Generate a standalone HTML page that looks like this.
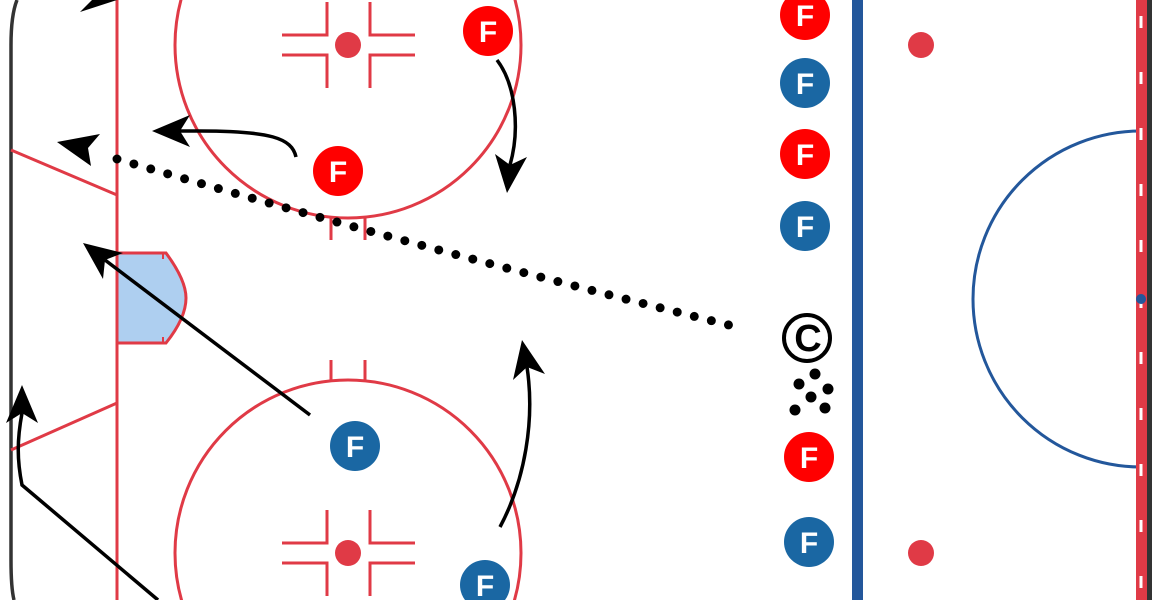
<!DOCTYPE html>
<html><head><meta charset="utf-8"><style>html,body{margin:0;padding:0;background:#fff;width:1152px;height:600px;overflow:hidden}svg{display:block;overflow:hidden}</style></head>
<body>
<svg width="1152" height="600" viewBox="0 0 1152 600" xmlns="http://www.w3.org/2000/svg">
<rect width="1152" height="600" fill="#fff"/>
<path d="M17,0 Q11,15 11,45 L11,560 Q11,588 14,600" fill="none" stroke="#333" stroke-width="3.5"/>
<line x1="117" y1="0" x2="117" y2="600" stroke="#e03a46" stroke-width="3"/>
<line x1="117" y1="195" x2="11" y2="150" stroke="#e03a46" stroke-width="3"/>
<line x1="117" y1="403" x2="11" y2="450" stroke="#e03a46" stroke-width="3"/>
<path d="M117,253 L166,253 Q186,280 186,298 Q186,318 166,343 L117,343 Z" fill="#aecff0" stroke="#e03a46" stroke-width="3"/>
<line x1="163" y1="253" x2="163" y2="259" stroke="#e03a46" stroke-width="2"/>
<line x1="163" y1="343" x2="163" y2="337" stroke="#e03a46" stroke-width="2"/>
<g stroke="#e03a46" stroke-width="3" fill="none">
<circle cx="348" cy="45" r="173"/>
<circle cx="348" cy="553" r="173"/>
<line x1="331" y1="218" x2="331" y2="240"/><line x1="365" y1="218" x2="365" y2="240"/>
<line x1="331" y1="360" x2="331" y2="381"/><line x1="365" y1="360" x2="365" y2="381"/>
<path d="M282,35 H327 V2 M282,55 H327 V88 M415,35 H370 V2 M415,55 H370 V88"/>
<path d="M282,543 H327 V510 M282,563 H327 V596 M415,543 H370 V510 M415,563 H370 V596"/>
</g>
<circle cx="348" cy="45" r="13" fill="#e03a46"/>
<circle cx="348" cy="553" r="13" fill="#e03a46"/>
<rect x="852" y="0" width="11" height="600" fill="#23579b"/>
<circle cx="921" cy="45" r="13" fill="#e03a46"/>
<circle cx="921" cy="553" r="13" fill="#e03a46"/>
<circle cx="1141" cy="299" r="168" fill="none" stroke="#23579b" stroke-width="3"/>
<rect x="1136" y="0" width="11" height="600" fill="#e03a46"/>
<rect x="1147" y="0" width="5" height="600" fill="#333"/>
<line x1="1141" y1="16" x2="1141" y2="600" stroke="#fff" stroke-width="3" stroke-dasharray="12 44"/>
<circle cx="1141" cy="299" r="5" fill="#23579b"/>
<path d="M117,159 Q425,250 737,327" fill="none" stroke="#000" stroke-width="9" stroke-linecap="round" stroke-dasharray="0 17.6"/>
<polygon points="57,142 100,134 88,148 91,166" fill="#000"/>
<polygon points="80,12 117,0 100,0 92,0" fill="#000"/>
<g fill="none" stroke="#000" stroke-width="3.5">
<path d="M296,157 C292,138 270,131 200,131 L180,131"/>
<path d="M497,60 C516,85 520,130 510,165"/>
<path d="M310,415 L105,260"/>
<path d="M500,527 C525,480 535,420 527,367"/>
<path d="M158,600 L22,485 C17,460 17,440 22,413"/>
</g>
<g fill="#000">
<polygon points="152,131 190,115 180,131 190,147"/>
<polygon points="507,193 527,157 510,165 495,154"/>
<polygon points="83,243 123,253 105,260 103,279"/>
<polygon points="522,340 545,374 527,367 513,380"/>
<polygon points="22,385 38,423 22,413 6,423"/>
</g>
<g font-family="Liberation Sans, sans-serif" font-weight="bold" font-size="30" fill="#fff" text-anchor="middle">
<circle cx="488" cy="31" r="25" fill="#ff0000"/><text x="488" y="42">F</text>
<circle cx="338" cy="171" r="25" fill="#ff0000"/><text x="338" y="182">F</text>
<circle cx="805" cy="15" r="25" fill="#ff0000"/><text x="805" y="26">F</text>
<circle cx="805" cy="154" r="25" fill="#ff0000"/><text x="805" y="165">F</text>
<circle cx="809" cy="457" r="25" fill="#ff0000"/><text x="809" y="468">F</text>
<circle cx="805" cy="83" r="25" fill="#1a67a3"/><text x="805" y="94">F</text>
<circle cx="805" cy="226" r="25" fill="#1a67a3"/><text x="805" y="237">F</text>
<circle cx="355" cy="446" r="25" fill="#1a67a3"/><text x="355" y="457">F</text>
<circle cx="809" cy="542" r="25" fill="#1a67a3"/><text x="809" y="553">F</text>
<circle cx="485" cy="585" r="25" fill="#1a67a3"/><text x="485" y="596">F</text>
</g>
<circle cx="807" cy="338" r="23" fill="#fff" stroke="#000" stroke-width="4"/>
<text x="808" y="351" font-family="Liberation Sans, sans-serif" font-weight="bold" font-size="38" text-anchor="middle" fill="#000">C</text>
<g fill="#000">
<circle cx="799" cy="384" r="5.5"/><circle cx="815" cy="374" r="5.5"/><circle cx="828" cy="389" r="5.5"/>
<circle cx="811" cy="397" r="5.5"/><circle cx="795" cy="410" r="5.5"/><circle cx="825" cy="408" r="5.5"/>
</g>
</svg>
</body></html>
